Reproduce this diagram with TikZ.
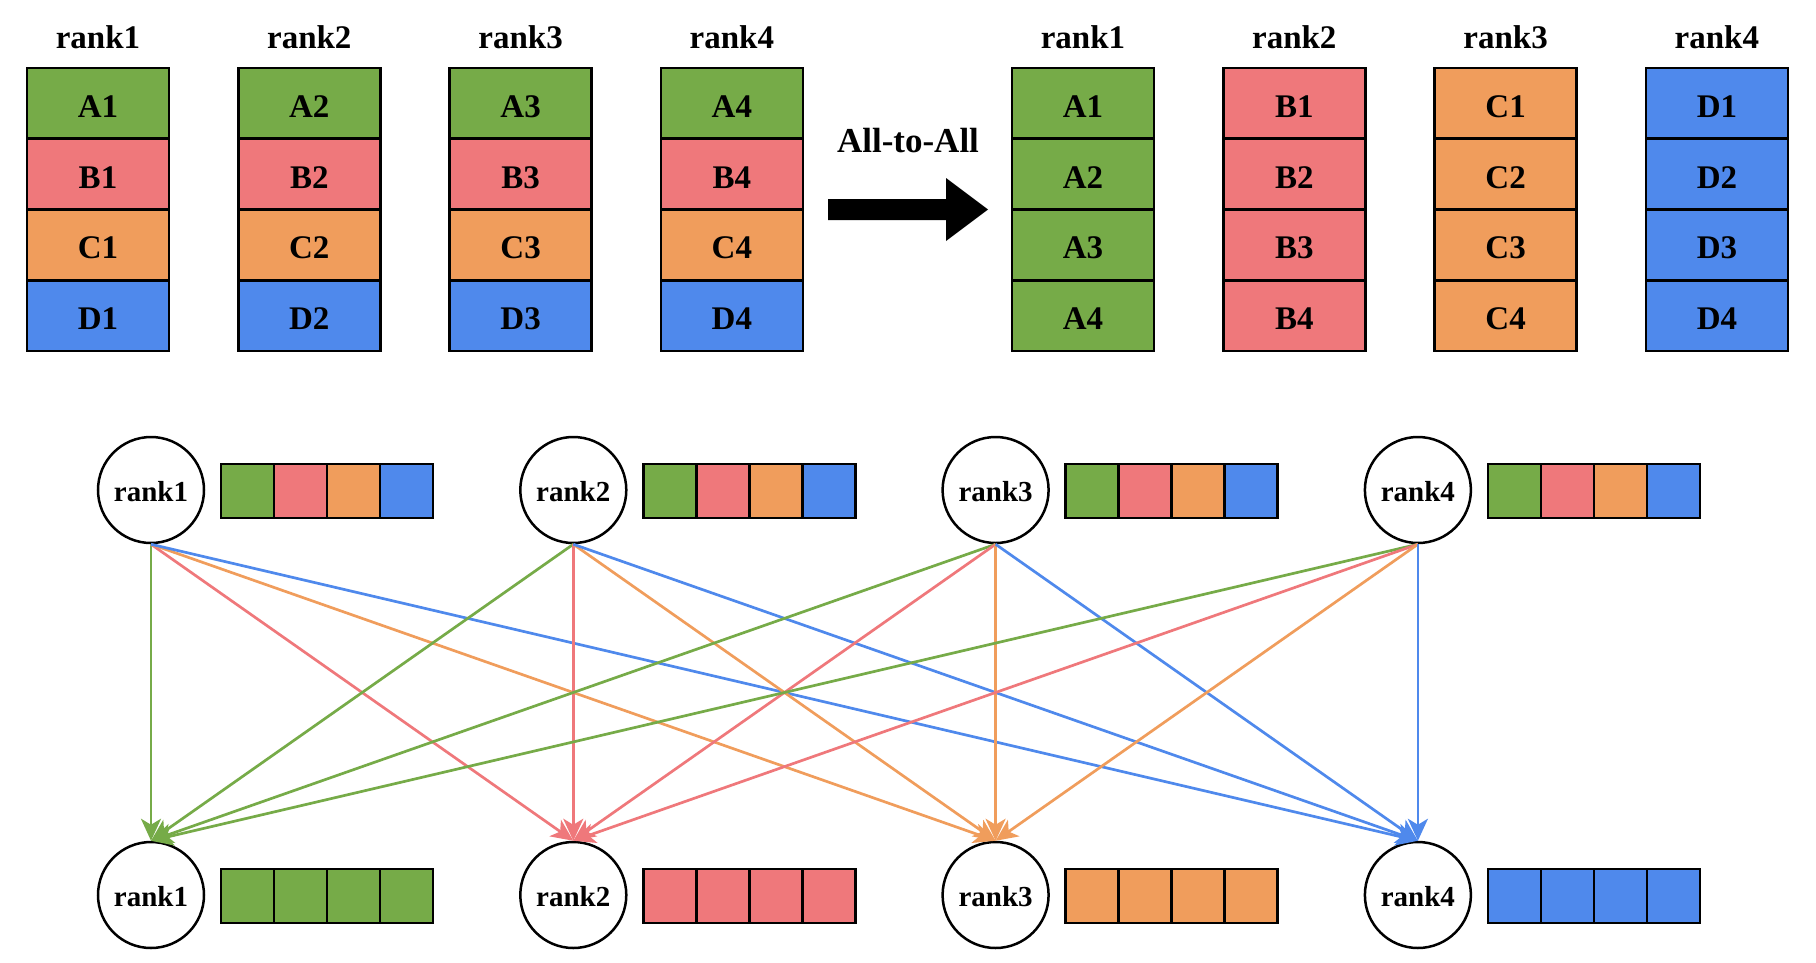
\documentclass[tikz,border=0pt]{standalone}
\usepackage{fontspec}
\setmainfont{Liberation Serif}
\usetikzlibrary{arrows.meta}
\definecolor{cA}{HTML}{76AB48}
\definecolor{cB}{HTML}{EF787B}
\definecolor{cC}{HTML}{F09D5C}
\definecolor{cD}{HTML}{4F89EC}
\begin{document}
\begin{tikzpicture}[x=1pt,y=-1pt,
  cell/.style={draw=black, line width=2.7pt, minimum width=142pt, minimum height=70.75pt,
    inner sep=0pt, font=\fontsize{33}{36}\selectfont\bfseries, text height=28pt, text depth=0pt},
  title/.style={inner sep=0pt, font=\fontsize{33}{36}\selectfont\bfseries},
  rk/.style={circle, draw=black, line width=2.5pt, minimum size=106pt, inner sep=0pt,
    fill=white, font=\fontsize{29}{32}\selectfont\bfseries, text height=23pt, text depth=0pt},
  sq/.style={draw=black, line width=2.7pt, minimum width=53pt, minimum height=54pt, inner sep=0pt},
  conn/.style={line width=2.7pt, -{Stealth[length=22pt,width=20pt,inset=6pt]}}]
\useasboundingbox (0,0) rectangle (1816,962);

% source buffers, one column per rank
\foreach \i in {1,...,4} {
  \pgfmathsetmacro\xl{98+211.3*(\i-1)}
  \node[title] (ltitle\i) at (\xl,37) {rank\i};
  \foreach \r/\L/\c in {1/A/cA,2/B/cB,3/C/cC,4/D/cD} {
    \node[cell, fill=\c] (l\L\i) at (\xl,{103.4+70.75*(\r-1)}) {\L\i};
  }
}

% result buffers after the exchange
\foreach \j/\L/\c in {1/A/cA,2/B/cB,3/C/cC,4/D/cD} {
  \pgfmathsetmacro\xr{1083+211.3*(\j-1)}
  \node[title] (rtitle\j) at (\xr,37) {rank\j};
  \foreach \r in {1,...,4} {
    \node[cell, fill=\c] (r\L\r) at (\xr,{103.4+70.75*(\r-1)}) {\L\r};
  }
}

% big arrow between the two halves
\fill[black] (828,199) -- (946,199) -- (946,178) -- (988,209.5) -- (946,241) -- (946,220) -- (828,220) -- cycle;
\node[title, font=\fontsize{35}{38}\selectfont\bfseries] (a2a) at (908,141) {All-to-All};

% ranks before (top row) and after (bottom row)
\foreach \i in {1,...,4} {
  \pgfmathsetmacro\xc{151+422.3*(\i-1)}
  \node[rk] (top\i) at (\xc,490) {rank\i};
  \node[rk] (bot\i) at (\xc,895) {rank\i};
  \foreach \k/\c in {1/cA,2/cB,3/cC,4/cD} {
    \node[sq, fill=\c] (ts\i\k) at ({\xc+96.5+53*(\k-1)},491) {};
  }
}
\foreach \j/\c in {1/cA,2/cB,3/cC,4/cD} {
  \pgfmathsetmacro\xc{151+422.3*(\j-1)}
  \foreach \k in {1,...,4} {
    \node[sq, fill=\c] (bs\j\k) at ({\xc+96.5+53*(\k-1)},896) {};
  }
}

% every rank sends block j to rank j
\foreach \i in {1,...,4} {
  \foreach \j/\c in {1/cA,2/cB,3/cC,4/cD} {
    \draw[conn, \c] (top\i.south) -- (bot\j.north);
  }
}
\end{tikzpicture}
\end{document}
